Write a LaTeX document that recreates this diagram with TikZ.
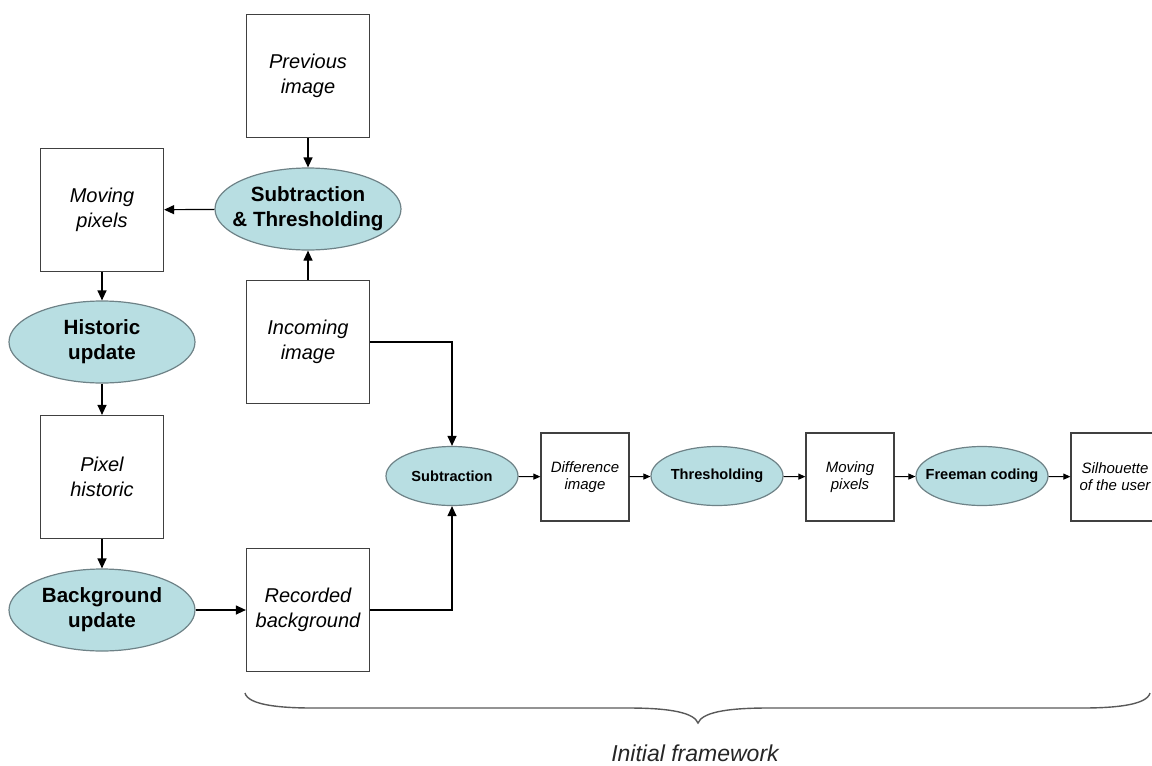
\documentclass[tikz,border=0pt]{standalone}
\usepackage{fontspec}
\setmainfont{Liberation Sans}
\usetikzlibrary{shapes.geometric,arrows.meta}
\definecolor{blobfill}{RGB}{184,222,226}
\definecolor{blobline}{RGB}{110,130,135}
\tikzset{
  box/.style={draw=black!75,line width=0.6pt,minimum size=61.5pt,inner sep=0pt,align=center,
    font=\itshape\fontsize{10}{12.5}\selectfont},
  smallbox/.style={box,minimum size=44pt,font=\itshape\fontsize{7.5}{8.5}\selectfont},
  blob/.style={ellipse,draw=blobline,line width=0.6pt,fill=blobfill,minimum width=93pt,minimum height=41pt,
    inner sep=-6pt,align=center,font=\bfseries\fontsize{10.3}{12.5}\selectfont},
  smallblob/.style={blob,minimum width=66pt,minimum height=29.5pt,inner sep=-5pt,
    font=\bfseries\fontsize{7.3}{8.5}\selectfont},
  flow/.style={line width=0.6pt,-{Triangle[length=5pt,width=4.5pt]}},
  smallflow/.style={line width=0.5pt,-{Triangle[length=3.5pt,width=3pt]}}
}
\begin{document}
\begin{tikzpicture}[x=0.5pt,y=-0.5pt]
\useasboundingbox (0,0) rectangle (1152,766);
\clip (0,0) rectangle (1152,766);
% updating loop on the left
    \node[box] (prev) at (308,76) {Previous\\image};
    \node[blob] (subthr) at (308,209) {Subtraction\\\& Thresholding};
    \node[box] (inc) at (308,342) {Incoming\\image};
    \node[box] (movA) at (102,210) {Moving\\pixels};
    \node[blob] (hist) at (102,342) {Historic\\update};
    \node[box] (pixh) at (102,477) {Pixel\\historic};
    \node[blob] (bgup) at (102,610) {Background\\update};
    \node[box] (rec) at (308,610) {Recorded\\background};
% detection chain
    \node[smallblob] (sub) at (452,476) {Subtraction};
    \node[smallbox] (diff) at (585,477) {Difference\\image};
    \node[smallblob] (thr) at (717,476) {Thresholding};
    \node[smallbox] (movB) at (850,477) {Moving\\pixels};
    \node[smallblob] (free) at (982,476) {Freeman coding};
    \node[smallbox] (sil) at (1115,477) {Silhouette\\of the user};

    \draw[flow](prev)--(subthr);
    \draw[flow](inc)--(subthr);
    \draw[flow](subthr)--(movA);
    \draw[flow](movA)--(hist);
    \draw[flow](hist)--(pixh);
    \draw[flow](pixh)--(bgup);
    \draw[flow](bgup)--(rec);
    \draw[flow](inc.east)-|(sub.north);
    \draw[flow](rec.east)-|(sub.south);
    \draw[smallflow](sub)--(diff);
    \draw[smallflow](diff)--(thr);
    \draw[smallflow](thr)--(movB);
    \draw[smallflow](movB)--(free);
    \draw[smallflow](free)--(sil);

% brace under the chain
    \draw[black!65,line width=0.7pt](245,693) .. controls (248,705) and (280,708) .. (312,708)--(628,708)
      .. controls (672,708) and (694,713) .. (698,723) .. controls (702,713) and (724,708) .. (768,708)
      --(1083,708) .. controls (1115,708) and (1147,705) .. (1150,693);
    \node[font=\itshape\fontsize{11.5}{13}\selectfont,text=black!85] (frame) at (695,753) {Initial framework};
\end{tikzpicture}
\end{document}
